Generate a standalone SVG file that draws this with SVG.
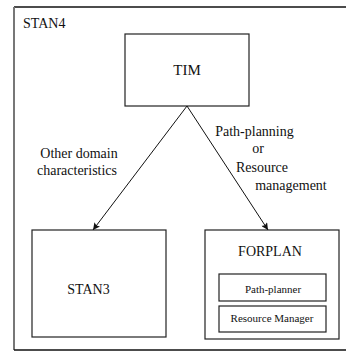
<svg xmlns="http://www.w3.org/2000/svg" width="346" height="352" viewBox="0 0 346 352">
<style>
text{font-family:'Liberation Serif','Times New Roman','DejaVu Serif',serif;fill:#111;}
.l{font-size:14px;}
.s{font-size:11px;}
.box{fill:#fff;stroke:#222;stroke-width:1.2;}
.edge{stroke:#111;stroke-width:1;fill:none;marker-end:url(#ah);}
</style>
<defs>
<marker id="ah" viewBox="0 0 10 10" refX="10" refY="5" markerWidth="9" markerHeight="7" markerUnits="userSpaceOnUse" orient="auto">
<path d="M0,0 L10,5 L0,10 L2,5 Z" fill="#111"/>
</marker>
</defs>
<rect width="346" height="352" fill="#fff"/>
<g id="STAN4">
<path d="M14,7 H346" stroke="#111" stroke-width="1.5" fill="none"/>
<path d="M14,7 V350" stroke="#777" stroke-width="2" fill="none"/>
<path d="M14,350 H346" stroke="#111" stroke-width="1.5" fill="none"/>
<text class="l" x="23" y="28" font-family="Liberation Serif, serif">STAN4</text>
</g>
<g id="TIM">
<rect class="box" x="125" y="34" width="124" height="72"/>
<text x="187" y="75" text-anchor="middle" font-family="Liberation Serif, serif" style="font-size:15px">TIM</text>
</g>
<g id="STAN3">
<rect class="box" x="32" y="230" width="134" height="107"/>
<text class="l" x="88.5" y="294" text-anchor="middle" font-family="Liberation Serif, serif">STAN3</text>
</g>
<g id="FORPLAN">
<rect class="box" x="205" y="230" width="134" height="109"/>
<text class="l" x="270" y="256" text-anchor="middle" font-family="Liberation Serif, serif">FORPLAN</text>
</g>
<g id="Path-planner">
<rect class="box" x="219" y="274" width="107" height="27"/>
<text class="s" x="273" y="293" text-anchor="middle" font-family="Liberation Serif, serif">Path-planner</text>
</g>
<g id="Resource-Manager">
<rect class="box" x="219" y="306" width="107" height="26"/>
<text class="s" x="272" y="322" text-anchor="middle" font-family="Liberation Serif, serif">Resource Manager</text>
</g>
<g id="connectors" font-family="Liberation Serif, serif">
<path class="edge" d="M187,106 L93,230"/>
<path class="edge" d="M187,106 L268,230"/>
<text class="l" x="79" y="158" text-anchor="middle">Other domain</text>
<text class="l" x="77" y="175" text-anchor="middle">characteristics</text>
<text class="l" x="254.5" y="136" text-anchor="middle">Path-planning</text>
<text class="l" x="258" y="153" text-anchor="middle">or</text>
<text class="l" x="262" y="172" text-anchor="middle">Resource</text>
<text class="l" x="291" y="190" text-anchor="middle">management</text>
</g>
</svg>
